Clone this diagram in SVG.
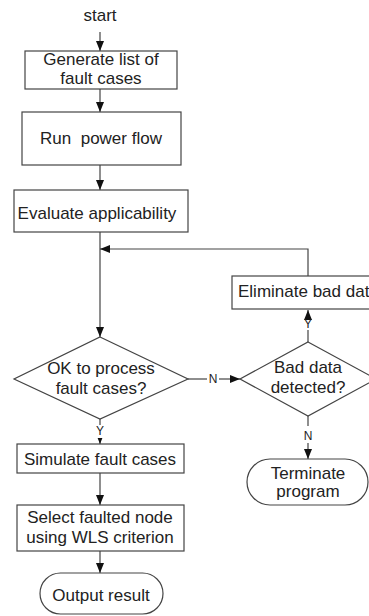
<svg xmlns="http://www.w3.org/2000/svg" width="369" height="616" viewBox="0 0 369 616">
<style>
text{font-family:"Liberation Sans",Arial,sans-serif;font-size:17px;fill:#222;text-anchor:middle}
.lbl{font-size:12px}
.shape{fill:#fff;stroke:#444;stroke-width:1.2}
.conn{fill:none;stroke:#444;stroke-width:1.2}
</style>
<defs>
<marker id="arr" markerUnits="userSpaceOnUse" markerWidth="10" markerHeight="10" viewBox="0 0 10 10" refX="10" refY="5" orient="auto">
<path d="M0,1 L10,5 L0,9 Z" fill="#111"/>
</marker>
<marker id="arrs" markerUnits="userSpaceOnUse" markerWidth="6" markerHeight="6" viewBox="0 0 10 10" refX="10" refY="5" orient="auto">
<path d="M0,1 L10,5 L0,9 Z" fill="#111"/>
</marker>
</defs>
<g id="connectors">
<line class="conn" x1="100" y1="32" x2="100" y2="51" marker-end="url(#arr)"/>
<line class="conn" x1="100" y1="89" x2="100" y2="112" marker-end="url(#arr)"/>
<line class="conn" x1="100" y1="165" x2="100" y2="190" marker-end="url(#arr)"/>
<line class="conn" x1="100" y1="232" x2="100" y2="337" marker-end="url(#arr)"/>
<line class="conn" x1="100" y1="419" x2="100" y2="425"/>
<line class="conn" x1="100" y1="438" x2="100" y2="444" marker-end="url(#arrs)"/>
<line class="conn" x1="100" y1="473" x2="100" y2="505" marker-end="url(#arr)"/>
<line class="conn" x1="100" y1="551" x2="100" y2="573" marker-end="url(#arr)"/>
<line class="conn" x1="188" y1="379" x2="207" y2="379"/>
<line class="conn" x1="219" y1="379" x2="240" y2="379" marker-end="url(#arr)"/>
<line class="conn" x1="308" y1="342" x2="308" y2="330"/>
<line class="conn" x1="308" y1="320" x2="308" y2="310" marker-end="url(#arr)"/>
<line class="conn" x1="308" y1="416" x2="308" y2="426"/>
<line class="conn" x1="308" y1="443" x2="308" y2="459" marker-end="url(#arr)"/>
<polyline class="conn" points="308,276 308,249 100,249" marker-end="url(#arr)"/>
<text class="lbl" x="100" y="435">Y</text>
<text class="lbl" x="213" y="383">N</text>
<text class="lbl" x="308" y="328">Y</text>
<text class="lbl" x="308" y="440">N</text>
</g>
<g id="start"><text x="100" y="21">start</text></g>
<g id="generate">
<rect class="shape" x="25" y="51" width="152" height="38"/>
<text x="101" y="65">Generate list of</text>
<text x="101" y="84">fault cases</text>
</g>
<g id="powerflow">
<rect class="shape" x="22" y="112" width="159" height="53"/>
<text x="101" y="144" xml:space="preserve">Run  power flow</text>
</g>
<g id="evaluate">
<rect class="shape" x="14" y="190" width="174" height="42"/>
<text x="97" y="219">Evaluate applicability</text>
</g>
<g id="ok">
<polygon class="shape" points="100,337 188,379 100,419 14,379"/>
<text x="101" y="374">OK to process</text>
<text x="101" y="394">fault cases?</text>
</g>
<g id="baddata">
<polygon class="shape" points="308,342 376,379 308,416 240,379"/>
<text x="308" y="373">Bad data</text>
<text x="308" y="393">detected?</text>
</g>
<g id="eliminate">
<rect class="shape" x="232" y="276" width="150" height="33"/>
<text x="238" y="297" style="text-anchor:start">Eliminate bad dat</text>
</g>
<g id="simulate">
<rect class="shape" x="17" y="444" width="167" height="29"/>
<text x="100" y="465">Simulate fault cases</text>
</g>
<g id="select">
<rect class="shape" x="17" y="505" width="167" height="46"/>
<text x="100" y="523">Select faulted node</text>
<text x="100" y="543">using WLS criterion</text>
</g>
<g id="output">
<rect class="shape" x="40" y="573" width="123" height="41" rx="20.5"/>
<text x="101" y="601">Output result</text>
</g>
<g id="terminate">
<rect class="shape" x="247" y="459" width="121" height="46" rx="23"/>
<text x="308" y="479">Terminate</text>
<text x="308" y="497">program</text>
</g>
</svg>
